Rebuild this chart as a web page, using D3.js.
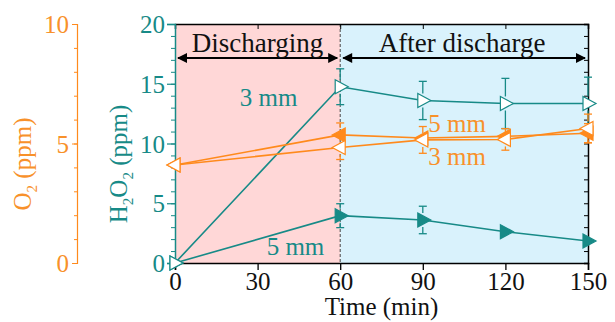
<!DOCTYPE html>
<html>
<head>
<meta charset="utf-8">
<script src="https://cdn.jsdelivr.net/npm/d3@7"></script>
<style>
  body { margin: 0; background: #fff; }
  svg text { font-family: "Liberation Serif", "Times New Roman", serif; }
</style>
</head>
<body>
<div id="chart"></div>
<script>
// podatki odčitani s slike
const times = [0, 60, 90, 120, 150];
const h2o2_3mm = [0, 14.75, 13.6, 13.35, 13.35];
const h2o2_3mmErr = [0, 1.5, 1.6, 2.1, 2.2];
const h2o2_5mm = [0, 3.96, 3.6, 2.62, 1.84];
const h2o2_5mmErr = [0, 1.0, 1.15, 0.35, 0.3];
const o2_5mm = [4.1, 5.36, 5.23, 5.3, 5.43];
const o2_5mmErr = [0, 0.5, 0.3, 0.3, 0.4];
const o2_3mm = [4.1, 4.83, 5.15, 5.17, 5.63];
const o2_3mmErr = [0, 0.5, 0.56, 0.45, 0.6];
const xTicks = [0, 30, 60, 90, 120, 150];
const h2o2Ticks = [0, 5, 10, 15, 20];
const o2Ticks = [0, 5, 10];

const teal = "#178a87";
const orange = "#ff8a1c";
const orangeText = "#f8912a";

const W = 615, H = 322;
const svg = d3.select("#chart").append("svg")
    .attr("width", W).attr("height", H);

const x = d3.scaleLinear().domain([0, 150]).range([175, 588]);
const yH = d3.scaleLinear().domain([0, 20]).range([263, 24]);
const yO = d3.scaleLinear().domain([0, 10]).range([263, 24]);

// ozadje: praznjenje / po praznjenju
svg.append("rect")
    .attr("x", x(0)).attr("y", yH(20))
    .attr("width", x(60) - x(0)).attr("height", yH(0) - yH(20))
    .attr("fill", "#ffd7d7");
svg.append("rect")
    .attr("x", x(60)).attr("y", yH(20))
    .attr("width", x(150) - x(60)).attr("height", yH(0) - yH(20))
    .attr("fill", "#d9f2fc");

// črtkana navpična črta pri 60 min
svg.append("line")
    .attr("x1", x(60)).attr("x2", x(60))
    .attr("y1", yH(20)).attr("y2", yH(0))
    .attr("stroke", "#444").attr("stroke-width", 1)
    .attr("stroke-dasharray", "3,2");

// puščice
const defs = svg.append("defs");
defs.append("marker")
    .attr("id", "ah").attr("viewBox", "0 0 10 10")
    .attr("refX", 9).attr("refY", 5)
    .attr("markerWidth", 6).attr("markerHeight", 5)
    .attr("markerUnits", "strokeWidth")
    .attr("orient", "auto-start-reverse")
    .append("path").attr("d", "M0,0 L10,5 L0,10 Z").attr("fill", "#000");

function arrow(a, b) {
    svg.append("line")
        .attr("x1", x(a) + 3).attr("x2", x(b) - 3)
        .attr("y1", 58).attr("y2", 58)
        .attr("stroke", "#000").attr("stroke-width", 2)
        .attr("marker-start", "url(#ah)").attr("marker-end", "url(#ah)");
}
arrow(0, 60);
arrow(60, 150);

svg.append("text").attr("x", (x(0) + x(60)) / 2 - 0).attr("y", 52)
    .attr("text-anchor", "middle").attr("font-size", "27px").attr("fill", "#111")
    .text("Discharging");
svg.append("text").attr("x", (x(60) + x(150)) / 2 - 2).attr("y", 52)
    .attr("text-anchor", "middle").attr("font-size", "27px").attr("fill", "#111")
    .text("After discharge");

// osi
const axBottom = svg.append("g").attr("transform", `translate(0,${yH(0)})`)
    .call(d3.axisBottom(x).tickValues(xTicks).tickSize(7).tickPadding(2));
axBottom.select(".domain").attr("stroke", "#000").attr("stroke-width", 1.5);
axBottom.selectAll("line").attr("stroke", "#000").attr("stroke-width", 1.3);
axBottom.selectAll("text").attr("font-size", "25px").attr("fill", "#111")
    .attr("font-family", "Liberation Serif");

const axTop = svg.append("g").attr("transform", `translate(0,${yH(20)})`)
    .call(d3.axisBottom(x).tickValues(xTicks.slice(1, -1)).tickSize(5).tickFormat(""));
axTop.select(".domain").attr("stroke", "#000").attr("stroke-width", 1.5);
axTop.selectAll("line").attr("stroke", "#000");

const axRight = svg.append("g").attr("transform", `translate(${x(150)},0)`)
    .call(d3.axisLeft(yH).ticks(20).tickSize(4).tickFormat(""));
axRight.select(".domain").attr("stroke", "#000").attr("stroke-width", 1.5);
axRight.selectAll("line").attr("stroke", "#000");

// levo os H2O2
const leftMinor = svg.append("g").attr("transform", `translate(${x(0)},0)`)
    .call(d3.axisLeft(yH).ticks(20).tickSize(4).tickFormat(""));
leftMinor.select(".domain").remove();
leftMinor.selectAll("line").attr("stroke", teal);
const axLeft = svg.append("g").attr("transform", `translate(${x(0)},0)`)
    .call(d3.axisLeft(yH).tickValues(h2o2Ticks).tickSize(8).tickPadding(2));
axLeft.select(".domain").attr("stroke", teal).attr("stroke-width", 1.5);
axLeft.selectAll("line").attr("stroke", teal).attr("stroke-width", 1.2);
axLeft.selectAll("text").attr("font-size", "25px").attr("fill", teal)
    .attr("font-family", "Liberation Serif").attr("dy", "0.34em");

// os O2
const oX = 77;
const o2Minor = svg.append("g").attr("transform", `translate(${oX},0)`)
    .call(d3.axisLeft(yO).ticks(10).tickSize(3).tickFormat(""));
o2Minor.select(".domain").remove();
o2Minor.selectAll("line").attr("stroke", orange);
const o2Axis = svg.append("g").attr("transform", `translate(${oX},0)`)
    .call(d3.axisLeft(yO).tickValues(o2Ticks).tickSize(5).tickPadding(3));
o2Axis.select(".domain").attr("stroke", orange).attr("stroke-width", 1.2);
o2Axis.selectAll("line").attr("stroke", orange);
o2Axis.selectAll("text").attr("font-size", "25px").attr("fill", orangeText)
    .attr("font-family", "Liberation Serif").attr("dy", "0.34em");

// naslovi osi
svg.append("text").attr("x", (x(0) + x(150)) / 2).attr("y", 315)
    .attr("text-anchor", "middle").attr("font-size", "25px").attr("fill", "#111")
    .text("Time (min)");

function axisTitle(cx, cy, parts, color) {
    const t = svg.append("text")
        .attr("transform", `translate(${cx},${cy}) rotate(-90)`)
        .attr("text-anchor", "middle").attr("font-size", "25px").attr("fill", color);
    parts.forEach(p => {
        const s = t.append("tspan").text(p[0]);
        if (p[1]) s.attr("font-size", "15px").attr("dy", "6");
        else if (p[2]) s.attr("dy", "-6");
    });
}
axisTitle(31, 164, [["O"], ["2", true], [" (ppm)", false, true]], orangeText);
axisTitle(127, 164, [["H"], ["2", true], ["O", false, true], ["2", true], [" (ppm)", false, true]], teal);

// risanje serij
const triR = "M-5,-7 L-5,7 L8,0 Z";
const triL = "M5,-7 L5,7 L-8,0 Z";

function series(vals, errs, y, color, shape, filled) {
    const line = d3.line().x((d, i) => x(times[i])).y(d => y(d));
    svg.append("path").datum(vals)
        .attr("d", line).attr("fill", "none")
        .attr("stroke", color).attr("stroke-width", 1.6);
    // error bars (Origin slog: od roba markerja)
    vals.forEach((v, i) => {
        const cx = x(times[i]);
        const up = y(v + errs[i]), dn = y(v - errs[i]), cy = y(v);
        const gap = 7;
        if (cy - up > gap + 1) {
            svg.append("line").attr("x1", cx).attr("x2", cx).attr("y1", cy - gap).attr("y2", up)
                .attr("stroke", color).attr("stroke-width", 1.3);
            svg.append("line").attr("x1", cx - 4).attr("x2", cx + 4).attr("y1", up).attr("y2", up)
                .attr("stroke", color).attr("stroke-width", 1.3);
        }
        if (dn - cy > gap + 1) {
            svg.append("line").attr("x1", cx).attr("x2", cx).attr("y1", cy + gap).attr("y2", dn)
                .attr("stroke", color).attr("stroke-width", 1.3);
            svg.append("line").attr("x1", cx - 4).attr("x2", cx + 4).attr("y1", dn).attr("y2", dn)
                .attr("stroke", color).attr("stroke-width", 1.3);
        }
    });
    svg.selectAll(null).data(vals).enter().append("path")
        .attr("d", shape)
        .attr("transform", (d, i) => `translate(${x(times[i])},${y(d)})`)
        .attr("fill", filled ? color : "#fff")
        .attr("stroke", color).attr("stroke-width", 1.2);
}

series(h2o2_5mm, h2o2_5mmErr, yH, teal, triR, true);
series(h2o2_3mm, h2o2_3mmErr, yH, teal, triR, false);
series(o2_5mm, o2_5mmErr, yO, orange, triL, true);
series(o2_3mm, o2_3mmErr, yO, orange, triL, false);

// oznake serij
function label(xv, yv, txt, color) {
    svg.append("text").attr("x", x(xv)).attr("y", yv)
        .attr("font-size", "25px").attr("fill", color).text(txt);
}
label(23.5, yH(13.1), "3 mm", teal);
label(33.3, yH(0.65), "5 mm", teal);
label(92, yO(5.5), "5 mm", orangeText);
label(92, yO(4.1), "3 mm", orangeText);
</script>
</body>
</html>
